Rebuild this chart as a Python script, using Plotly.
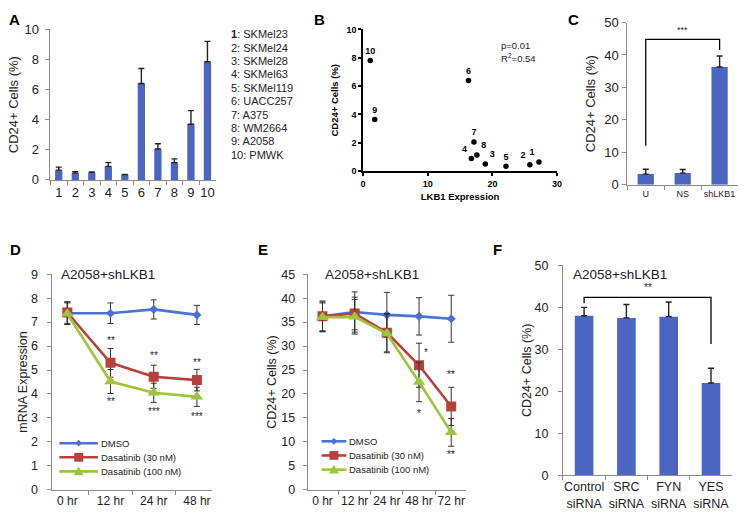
import plotly.graph_objects as go

W, H = 750, 527
def px(x): return x / W
def py(y): return 1 - y / H

FONT = "Liberation Sans, Arial, sans-serif"
BLUE = "#4A66C2"
LBLUE = "#4A72D2"
RED = "#B8403A"
GREEN = "#9CC43C"
AX = "#8A8A8A"

# ---------------- Data ----------------
# Panel A
a_cats = ["1", "2", "3", "4", "5", "6", "7", "8", "9", "10"]
a_vals = [0.65, 0.45, 0.5, 0.9, 0.35, 6.4, 2.05, 1.15, 3.7, 7.85]
a_err = [0.2, 0.1, 0.03, 0.25, 0.02, 1.0, 0.35, 0.25, 0.9, 1.35]
a_names = ["SKMel23", "SKMel24", "SKMel28", "SKMel63", "SKMel119",
           "UACC257", "A375", "WM2664", "A2058", "PMWK"]

# Panel B
b_lkb1 = [27.2, 25.8, 18.9, 16.75, 22.1, 16.3, 17.15, 17.6, 1.8, 1.1]
b_cd24 = [0.65, 0.45, 0.5, 0.9, 0.35, 6.4, 2.05, 1.15, 3.65, 7.8]
b_labels = ["1", "2", "3", "4", "5", "6", "7", "8", "9", "10"]
b_stats = ["p=0.01", "R<sup>2</sup>=0.54"]

# Panel C
c_cats = ["U", "NS", "shLKB1"]
c_vals = [3.3, 3.6, 36.3]
c_err = [1.5, 1.1, 3.4]
c_bracket_y = [12, 44.8, 44.8, 41.5]

# Panel D
d_cats = ["0 hr", "12 hr", "24 hr", "48 hr"]
d_dmso = [7.37, 7.37, 7.53, 7.3]
d_dmso_err = [0.47, 0.43, 0.4, 0.4]
d_d30 = [7.4, 5.3, 4.72, 4.58]
d_d30_err = [0.45, 0.6, 0.48, 0.45]
d_d100 = [7.35, 4.52, 4.05, 3.88]
d_d100_err = [0.45, 0.5, 0.4, 0.4]
d_star_up = ["**", "**", "**"]
d_star_up_y = [6.23, 5.59, 5.32]
d_star_dn = ["**", "***", "***"]
d_star_dn_y = [3.68, 3.29, 3.05]

# Panel E
e_cats = ["0 hr", "12 hr", "24 hr", "48 hr", "72 hr"]
e_dmso = [36.2, 37.1, 36.5, 36.2, 35.7]
e_dmso_err = [3.2, 4.2, 4.7, 3.9, 4.9]
e_d30 = [36.2, 36.8, 32.8, 26.0, 17.4]
e_d30_err = [3.0, 3.4, 4.0, 4.6, 4.0]
e_d100 = [36.0, 36.1, 32.6, 22.5, 12.0]
e_d100_err = [3.0, 3.6, 4.0, 4.1, 2.9]
e_star_up = ["*", "**"]
e_star_up_y = [28.6, 24.0]
e_star_dn = ["*", "**"]
e_star_dn_y = [16.0, 7.3]

# Panel F
f_cats = ["Control<br>siRNA", "SRC<br>siRNA", "FYN<br>siRNA", "YES<br>siRNA"]
f_vals = [38.0, 37.5, 37.8, 22.0]
f_err = [2.0, 3.2, 3.5, 3.5]
f_bracket_y = [41.0, 42.4, 42.4, 31.3]

series_names = ["DMSO", "Dasatinib (30 nM)", "Dasatinib (100 nM)"]
series_colors = [LBLUE, RED, GREEN]
series_symbols = ["diamond", "square", "triangle-up"]
series_sizes = [7, 10, 11]

fig = go.Figure()

def bar_err(err, w=3):
    return dict(type="data", symmetric=False, array=err, arrayminus=[0] * len(err),
                color="#222222", thickness=1.4, width=w)

# A
fig.add_trace(go.Bar(x=a_cats, y=a_vals, marker_color=BLUE, marker_line_width=0,
                     error_y=bar_err(a_err, 3), xaxis="x", yaxis="y"))
# B
fig.add_trace(go.Scatter(x=b_lkb1, y=b_cd24, mode="markers+text", text=b_labels,
                         textposition=["top left", "top left", "top right", "top left",
                                       "top center", "top center", "top center", "top right",
                                       "top center", "top center"],
                         textfont=dict(size=9, color="black", family=FONT, weight="bold"),
                         marker=dict(color="black", size=5.5), cliponaxis=False,
                         xaxis="x2", yaxis="y2"))
# C
fig.add_trace(go.Bar(x=c_cats, y=c_vals, marker_color=BLUE, marker_line_width=0,
                     error_y=bar_err(c_err, 3), xaxis="x3", yaxis="y3"))
fig.add_trace(go.Scatter(x=[c_cats[0], c_cats[0], c_cats[2], c_cats[2]], y=c_bracket_y,
                         mode="lines", line=dict(color="black", width=1.3),
                         xaxis="x3", yaxis="y3"))

def line_trace(x, y, err, k, xa, ya):
    c = series_colors[k]
    return go.Scatter(x=x, y=y, name=series_names[k], mode="lines+markers",
                      line=dict(color=c, width=2.6),
                      marker=dict(color=c, symbol=series_symbols[k], size=series_sizes[k]),
                      error_y=dict(type="data", array=err, color="#333333",
                                   thickness=1, width=3),
                      xaxis=xa, yaxis=ya)

# D
fig.add_trace(line_trace(d_cats, d_dmso, d_dmso_err, 0, "x4", "y4"))
fig.add_trace(line_trace(d_cats, d_d30, d_d30_err, 1, "x4", "y4"))
fig.add_trace(line_trace(d_cats, d_d100, d_d100_err, 2, "x4", "y4"))
# E
fig.add_trace(line_trace(e_cats, e_dmso, e_dmso_err, 0, "x5", "y5"))
fig.add_trace(line_trace(e_cats, e_d30, e_d30_err, 1, "x5", "y5"))
fig.add_trace(line_trace(e_cats, e_d100, e_d100_err, 2, "x5", "y5"))
# F
fig.add_trace(go.Bar(x=f_cats, y=f_vals, marker_color=BLUE, marker_line_width=0,
                     error_y=bar_err(f_err, 3), xaxis="x6", yaxis="y6"))
fig.add_trace(go.Scatter(x=[f_cats[0], f_cats[0], f_cats[3], f_cats[3]], y=f_bracket_y,
                         mode="lines", line=dict(color="black", width=1.3),
                         xaxis="x6", yaxis="y6"))

def excel_x(domain, anchor, size):
    return dict(domain=domain, anchor=anchor, showline=True, linecolor=AX, linewidth=1,
                ticks="outside", tickson="boundaries", ticklen=4, tickcolor=AX,
                tickangle=0, tickfont=dict(size=size, color="#222"), showgrid=False,
                zeroline=False, fixedrange=True)

def excel_y(domain, anchor, rng, dtick, size, title, standoff, lstand):
    return dict(domain=domain, anchor=anchor, range=rng, dtick=dtick, showline=True,
                linecolor=AX, linewidth=1, ticks="outside", ticklen=4, tickcolor=AX,
                ticklabelstandoff=lstand,
                tickfont=dict(size=size, color="#222"), showgrid=False, zeroline=False,
                title=dict(text=title, font=dict(size=size, color="#222"), standoff=standoff))

layout = dict(
    width=W, height=H, margin=dict(l=0, r=0, t=0, b=0),
    paper_bgcolor="white", plot_bgcolor="white",
    font=dict(family=FONT, color="#222"),
    bargap=0.56, showlegend=False,
    xaxis=excel_x([px(48), px(215)], "y", 13),
    yaxis=excel_y([py(178), py(23)], "x", [0, 10], 2, 13, "CD24+ Cells (%)", 2, 4),
    xaxis2=dict(domain=[px(364), px(560)], anchor="y2", range=[0, 30], dtick=10,
                showline=True, linecolor="black", linewidth=1.5, ticks="outside",
                ticklen=3, tickcolor="black", tickwidth=1.5, showgrid=False, zeroline=False,
                tickangle=0, tickfont=dict(size=9, color="black", weight="bold"),
                title=dict(text="<b>LKB1 Expression</b>", font=dict(size=9.5, color="black"), standoff=6)),
    yaxis2=dict(domain=[py(169), py(23)], anchor="x2", range=[0, 10], dtick=2,
                showline=True, linecolor="black", linewidth=1.5, ticks="outside",
                ticklen=3, tickcolor="black", tickwidth=1.5, showgrid=False, zeroline=False,
                tickfont=dict(size=9, color="black", weight="bold"),
                title=dict(text="<b>CD24+ Cells (%)</b>", font=dict(size=9.5, color="black"), standoff=6)),
    xaxis3=excel_x([px(631), px(743)], "y3", 9),
    yaxis3=excel_y([py(183), py(16)], "x3", [0, 50], 10, 13, "CD24+ Cells (%)", 5, 1),
    xaxis4=excel_x([px(50), px(211)], "y4", 12),
    yaxis4=excel_y([py(497), py(275)], "x4", [0, 9], 1, 12.5, "mRNA Expression", 0, 7),
    xaxis5=excel_x([px(308), px(468)], "y5", 12),
    yaxis5=excel_y([py(497), py(275)], "x5", [0, 45], 5, 12.5, "CD24+ Cells (%)", 1, 5),
    xaxis6=excel_x([px(566), px(737)], "y6", 12.5),
    yaxis6=excel_y([py(482), py(266)], "x6", [0, 50], 10, 12.5, "CD24+ Cells (%)", 0, 7),
)
fig.update_layout(**layout)

ann = []
shapes = []
# panel letters
for letter, x, y in [("A", 12, 13), ("B", 320, 13), ("C", 577, 13),
                     ("D", 13, 250), ("E", 263, 250), ("F", 500, 250)]:
    ann.append(dict(text=f"<b>{letter}</b>", x=px(x), y=py(y), xref="paper", yref="paper",
                    xanchor="center", yanchor="middle", showarrow=False,
                    font=dict(size=15, color="black")))
# A legend list
for i, name in enumerate(a_names):
    lab = f"<b>{a_cats[i]}</b>: {name}" if i == 0 else f"{a_cats[i]}: {name}"
    ann.append(dict(text=lab, x=px(228), y=py(28 + i * 13.8), xref="paper", yref="paper",
                    xanchor="left", yanchor="middle", showarrow=False,
                    font=dict(size=11, color="#222")))
# B stats
for i, s in enumerate(b_stats):
    ann.append(dict(text=s, x=px(501), y=py(40 + i * 12), xref="paper", yref="paper",
                    xanchor="left", yanchor="middle", showarrow=False,
                    font=dict(size=9.5, color="#222")))
# C stars
ann.append(dict(text="***", x=1, y=47.8, xref="x3", yref="y3", showarrow=False,
                font=dict(size=9, color="#222")))
# F stars
ann.append(dict(text="**", x=1.5, y=44.8, xref="x6", yref="y6", showarrow=False,
                font=dict(size=10, color="#222")))
# titles
for x, y in [(57, 275), (323, 275), (574, 275)]:
    ann.append(dict(text="A2058+shLKB1", x=px(x), y=py(y), xref="paper", yref="paper",
                    xanchor="left", yanchor="middle", showarrow=False,
                    font=dict(size=13.5, color="#222")))
# D stars
for i, s in enumerate(d_star_up):
    ann.append(dict(text=s, x=d_cats[i + 1], y=d_star_up_y[i], xref="x4", yref="y4",
                    showarrow=False, font=dict(size=10, color="#222")))
for i, s in enumerate(d_star_dn):
    ann.append(dict(text=s, x=d_cats[i + 1], y=d_star_dn_y[i], xref="x4", yref="y4",
                    showarrow=False, font=dict(size=10, color="#222")))
# E stars
for i, s in enumerate(e_star_up):
    ann.append(dict(text=s, x=e_cats[i + 3], y=e_star_up_y[i], xref="x5", yref="y5",
                    showarrow=False, xshift=7 if i == 0 else 0, font=dict(size=10, color="#222")))
for i, s in enumerate(e_star_dn):
    ann.append(dict(text=s, x=e_cats[i + 3], y=e_star_dn_y[i], xref="x5", yref="y5",
                    showarrow=False, font=dict(size=10, color="#222")))

# manual legends (D and E)
def marker_path(k, cx, cy):
    if k == 0:
        r = 3.5
        pts = [(cx, cy - r), (cx + r, cy), (cx, cy + r), (cx - r, cy)]
    elif k == 1:
        r = 4.5
        pts = [(cx - r, cy - r), (cx + r, cy - r), (cx + r, cy + r), (cx - r, cy + r)]
    else:
        r = 5
        pts = [(cx, cy - r), (cx + r, cy + r * 0.8), (cx - r, cy + r * 0.8)]
    return "M " + " L ".join(f"{px(a):.5f},{py(b):.5f}" for a, b in pts) + " Z"

for (x0, x1, y0, gap) in [(57, 96, 449, 14.5), (322, 347, 447, 14.6)]:
    for k, name in enumerate(series_names):
        yy = y0 + k * gap
        c = series_colors[k]
        shapes.append(dict(type="line", xref="paper", yref="paper", x0=px(x0), x1=px(x1),
                           y0=py(yy), y1=py(yy), line=dict(color=c, width=2.6)))
        shapes.append(dict(type="path", xref="paper", yref="paper",
                           path=marker_path(k, (x0 + x1) / 2, yy), fillcolor=c,
                           line=dict(color=c, width=0)))
        ann.append(dict(text=name, x=px(x1 + 1), y=py(yy), xref="paper", yref="paper",
                        xanchor="left", yanchor="middle", showarrow=False,
                        font=dict(size=9.5, color="#222")))

fig.update_layout(annotations=ann, shapes=shapes)
fig.write_html("out.html", config={"displayModeBar": False},
               post_script="document.body.style.margin='0';document.body.style.overflow='hidden';")
